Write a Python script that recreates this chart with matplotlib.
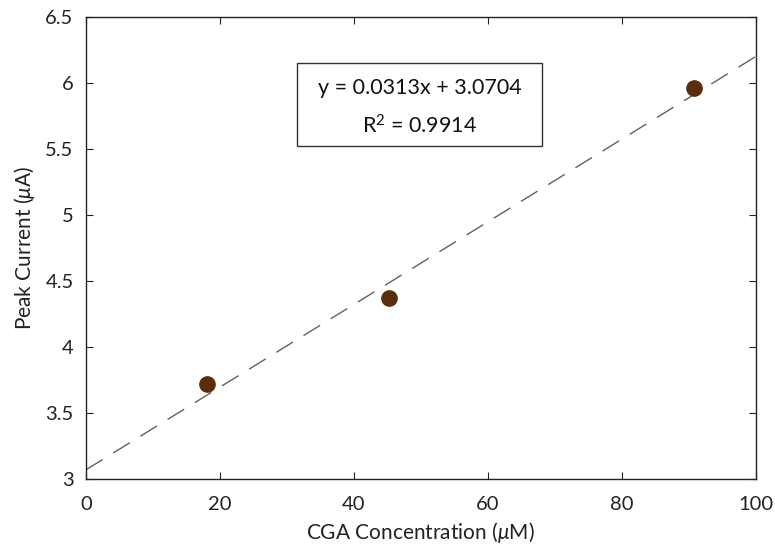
import numpy as np
import matplotlib
matplotlib.use('Agg')
import matplotlib.pyplot as plt
from matplotlib.patches import Rectangle

plt.rcParams['font.family'] = ['Lato', 'DejaVu Sans']
plt.rcParams['mathtext.fontset'] = 'custom'
plt.rcParams['mathtext.it'] = 'Lato:italic'
plt.rcParams['mathtext.rm'] = 'Lato'

# data
conc = [18.0, 45.3, 90.8]
current = [3.72, 4.37, 5.96]
slope = 0.0313
intercept = 3.0704
r2 = 0.9914
xticks = [0, 20, 40, 60, 80, 100]
yticks = [3, 3.5, 4, 4.5, 5, 5.5, 6, 6.5]

fig = plt.figure(figsize=(7.75, 5.5), dpi=100)
ax = fig.add_axes([0.111, 0.129, 0.864, 0.840])

xf = np.array([0, 100])
ax.plot(xf, slope * xf + intercept, color='#6e5e50', lw=1.0,
        dashes=(14, 9), zorder=2)
ax.plot(conc, current, 'o', color='#5a2d0f', markersize=11, zorder=3)

ax.set_xlim(0, 100)
ax.set_ylim(3, 6.5)
ax.set_xticks(xticks)
ax.set_yticks(yticks)
ax.set_xticklabels([str(t) for t in xticks])
ax.set_yticklabels([f'{t:g}' for t in yticks])
ax.tick_params(direction='in', length=5, width=0.8, labelsize=14.5,
               top=True, right=True, colors='#222222')
ax.tick_params(axis='x', pad=12)
ax.tick_params(axis='y', pad=9)
for s in ax.spines.values():
    s.set_linewidth(1.0)
    s.set_color('#222222')

ax.set_xlabel(r'CGA Concentration ($\mu$M)', fontsize=15, color='#222222', labelpad=5)
ax.set_ylabel(r'Peak Current ($\mu$A)', fontsize=15, color='#222222', labelpad=6)

# equation box
ax.add_patch(Rectangle((0.315, 0.721), 0.366, 0.179, transform=ax.transAxes,
                       fc='white', ec='#333333', lw=1.0, zorder=4))
ax.text(0.498, 0.804, f'y = {slope}x + {intercept}\n$\\mathregular{{R^2}}$ = {r2}',
        transform=ax.transAxes, ha='center', va='center', fontsize=15.5,
        linespacing=1.85, color='#111111', zorder=5)

fig.savefig('out.png', dpi=100)
